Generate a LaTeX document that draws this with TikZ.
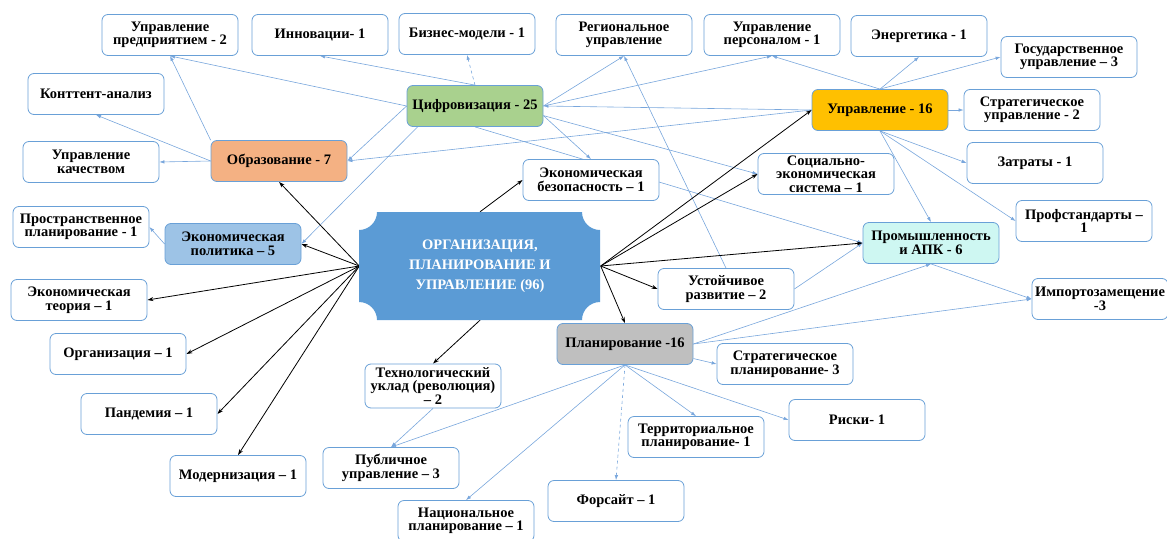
\documentclass[tikz,border=0pt]{standalone}
\usepackage{fontspec}
\setmainfont{Liberation Serif}[BoldFont={Liberation Serif Bold}]
\usetikzlibrary{arrows.meta}
\definecolor{boxblue}{RGB}{105,160,215}
\definecolor{linkblue}{RGB}{120,166,220}
\definecolor{cifrgreen}{RGB}{169,209,142}
\definecolor{uprorange}{RGB}{255,192,0}
\definecolor{obrorange}{RGB}{244,177,131}
\definecolor{polblue}{RGB}{157,195,230}
\definecolor{promcyan}{RGB}{206,247,242}
\definecolor{plangray}{RGB}{191,191,191}
\definecolor{centblue}{RGB}{91,155,213}
\pgfdeclarelayer{bg}
\pgfsetlayers{bg,main}
\begin{document}
\begin{tikzpicture}[x=1pt,y=-1pt,
  box/.style={draw=boxblue, line width=0.8pt, rounded corners=6pt, fill=white,
    minimum width=136pt, minimum height=41pt, align=center, inner sep=1pt,
    font=\bfseries\fontsize{14.5}{13.5}\selectfont},
  blink/.style={draw=linkblue, line width=0.6pt, -{Latex[length=5pt,width=3.5pt]}},
  klink/.style={draw=black, line width=0.8pt, -{Stealth[length=6pt,width=4pt]}},
  dlink/.style={blink, dashed},
]
\useasboundingbox (0,0) rectangle (1167,538);

% central plaque
\fill[centblue] (377,212) -- (582,212) arc[start angle=180, end angle=90, radius=18]
  -- (600,302) arc[start angle=270, end angle=180, radius=18]
  -- (377,320) arc[start angle=0, end angle=-90, radius=18]
  -- (359,230) arc[start angle=90, end angle=0, radius=18] -- cycle;
\node[minimum width=241pt, minimum height=108pt, align=center, text=white,
  font=\bfseries\fontsize{14.5}{20}\selectfont] (c) at (480,266)
  {ОРГАНИЗАЦИЯ,\\ПЛАНИРОВАНИЕ И\\УПРАВЛЕНИЕ (96)};

% nodes
\node[box] (uprpred) at (170,35) {Управление\\предприятием - 2};
\node[box] (innov) at (320,35) {Инновации- 1};
\node[box] (biz) at (467,34) {Бизнес-модели - 1};
\node[box] (region) at (624,35) {Региональное\\управление};
\node[box] (personal) at (772,35) {Управление\\персоналом - 1};
\node[box] (energ) at (919,36) {Энергетика - 1};
\node[box] (gos) at (1069,57) {Государственное\\управление – 3};
\node[box] (kontent) at (96,94) {Конттент-анализ};
\node[box, fill=cifrgreen] (cifr) at (475,106) {Цифровизация - 25};
\node[box, fill=uprorange] (upr) at (880,110) {Управление - 16};
\node[box] (strupr) at (1032,110) {Стратегическое\\управление - 2};
\node[box] (kach) at (91,162) {Управление\\качеством};
\node[box, fill=obrorange] (obr) at (279,161) {Образование - 7};
\node[box] (zatr) at (1035,163) {Затраты - 1};
\node[box] (ekbez) at (591,180) {Экономическая\\безопасность – 1};
\node[box] (soc) at (826,174) {Социально-\\экономическая\\система – 1};
\node[box] (prostr) at (81,227) {Пространственное\\планирование - 1};
\node[box, fill=polblue] (ekpol) at (233,244) {Экономическая\\политика – 5};
\node[box] (prof) at (1084,221) {Профстандарты –\\1};
\node[box, fill=promcyan] (prom) at (931,243) {Промышленность\\и АПК - 6};
\node[box] (ekteor) at (79,300) {Экономическая\\теория – 1};
\node[box] (ustoi) at (726,289) {Устойчивое\\развитие – 2};
\node[box] (import) at (1100,299) {Импортозамещение\\-3};
\node[box, fill=plangray] (plan) at (625,344) {Планирование -16};
\node[box] (org) at (118,354) {Организация – 1};
\node[box] (strplan) at (785,364) {Стратегическое\\планирование- 3};
\node[box, minimum height=44pt] (tech) at (433,386) {Технологический\\уклад (революция)\\– 2};
\node[box] (pand) at (149,414) {Пандемия – 1};
\node[box] (territ) at (696,437) {Территориальное\\планирование- 1};
\node[box] (riski) at (857,420) {Риски- 1};
\node[box] (public) at (391,468) {Публичное\\управление – 3};
\node[box] (modern) at (238,476) {Модернизация – 1};
\node[box] (fors) at (616,501) {Форсайт – 1};
\node[box] (nac) at (466,521) {Национальное\\планирование – 1};

\begin{pgfonlayer}{bg}
% blue links
\draw[blink] (cifr.west) -- (uprpred.south);
\draw[blink] (cifr.north) -- (innov.south);
\draw[dlink] (cifr.north) -- (biz.south);
\draw[blink] (cifr.west) -- (obr.east);
\draw[blink] (cifr.200) -- (ekpol.east);
\draw[blink] (cifr.east) -- (region.south);
\draw[blink] (cifr.east) -- (personal.south);
\draw[blink] (cifr.-8) -- (ekbez.north);
\draw[blink] (cifr.-8) -- (soc.west);
\draw[blink] (cifr.south) -- (prom.west);
\draw[blink] (upr.west) -- (cifr.east);
\draw[blink] (upr.west) -- (obr.east);
\draw[blink] (obr.north west) -- (uprpred.south);
\draw[blink] (obr.west) -- (kontent.south);
\draw[blink] (obr.west) -- (kach.east);
\draw[blink] (upr.north) -- (personal.south);
\draw[blink] (upr.north) -- (energ.south);
\draw[blink] (upr.north) -- (gos.west);
\draw[blink] (upr.east) -- (strupr.west);
\draw[blink] (upr.south) -- (zatr.west);
\draw[blink] (upr.south) -- (prof.west);
\draw[blink] (upr.south) -- (prom.north);
\draw[blink] (prom.south) -- (import.west);
\draw[blink] (plan.east) -- (prom.south);
\draw[blink] (plan.east) -- (import.west);
\draw[blink] (plan.-12) -- (strplan.west);
\draw[blink] (plan.south) -- (riski.west);
\draw[blink] (plan.south) -- (territ.north);
\draw[dlink] (plan.south) -- (fors.north);
\draw[blink] (plan.south) -- (nac.north);
\draw[blink] (plan.south) -- (public.north);
\draw[blink] (tech.south) -- (public.north);
\draw[blink] (ekpol.west) -- (prostr.east);
\draw[blink] (ustoi.north) -- (region.south);
\draw[blink] (ustoi.east) -- (prom.west);
% black links
\draw[klink] (c.west) -- (obr.south);
\draw[klink] (c.west) -- (ekpol.east);
\draw[klink] (c.west) -- (ekteor.east);
\draw[klink] (c.west) -- (org.east);
\draw[klink] (c.west) -- (pand.east);
\draw[klink] (c.west) -- (modern.north);
\draw[klink] (c.north) -- (ekbez.west);
\draw[klink] (c.south) -- (tech.north);
\draw[klink] (c.east) -- (upr.west);
\draw[klink] (c.east) -- (soc.west);
\draw[klink] (c.east) -- (prom.west);
\draw[klink] (c.east) -- (ustoi.west);
\draw[klink] (c.east) -- (plan.north);
\end{pgfonlayer}
\end{tikzpicture}
\end{document}
